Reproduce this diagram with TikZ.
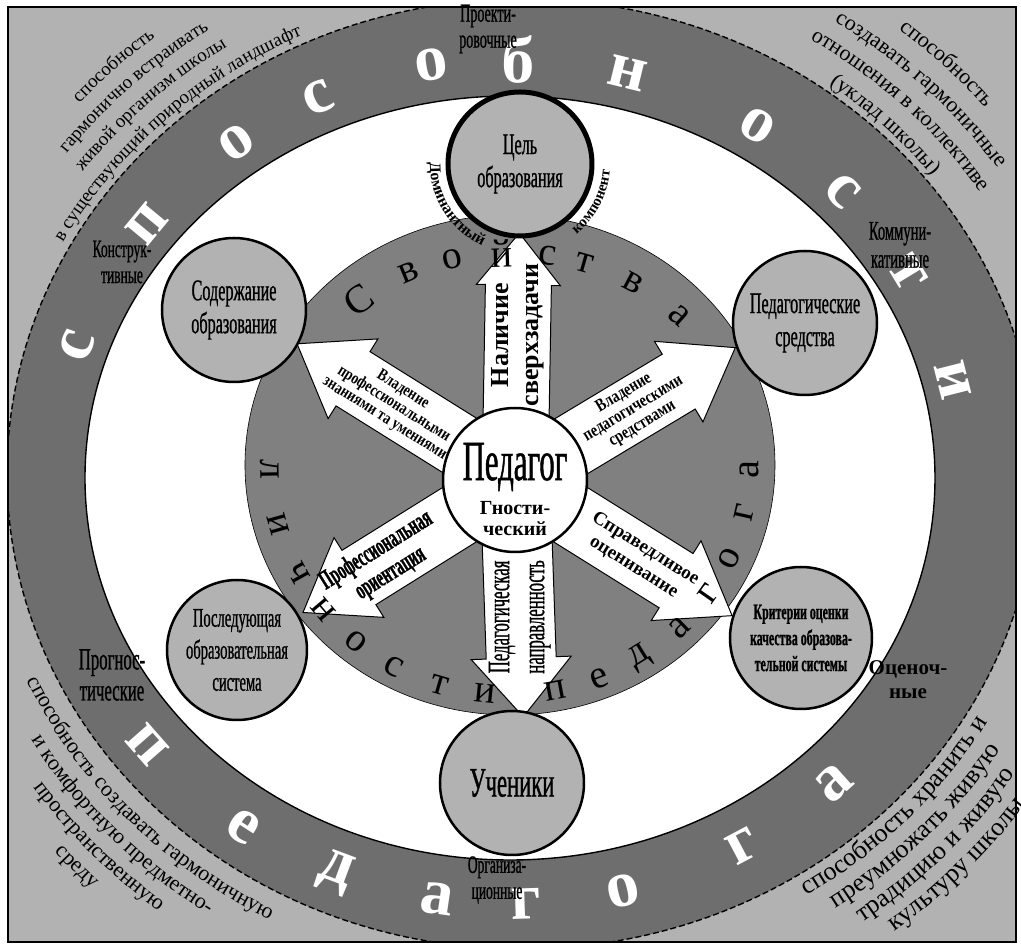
\documentclass[tikz,border=0pt]{standalone}
\usepackage{fontspec}
\setmainfont{Liberation Serif}
\newfontfamily\schmal[FakeStretch=0.62]{Liberation Serif}
\newfontfamily\engschrift[FakeStretch=0.54, FakeBold=0.8]{Liberation Serif}
\newfontfamily\halbschmal[FakeStretch=0.8]{Liberation Serif}
\usetikzlibrary{decorations.text}

\definecolor{hellgrau}{gray}{0.70}
\definecolor{ringgrau}{gray}{0.43}
\definecolor{innengrau}{gray}{0.50}

\newcommand{\eckschrift}{\fontsize{19}{19}\selectfont}
\newcommand{\eckgross}{\fontsize{22}{22}\selectfont}
\newcommand{\eckweit}{\fontsize{26}{26}\selectfont}

% blockpfeil vom paedagogen aus: winkel, spitze, schaft, kopf, kopflaenge, textpos, textdrehung, schrift, text
\newcommand{\blokpfeil}[9]{%
  \begin{scope}[shift={(zentrum)}, rotate=#1]
    \draw[pfeil] (40,-#3) -- ({#2-#5},-#3) -- ({#2-#5},-#4) -- (#2,0)
      -- ({#2-#5},#4) -- ({#2-#5},#3) -- (40,#3) -- cycle;
    \node[pfeiltext, rotate=#7, font=#8] at (#6,0) {#9};
  \end{scope}}

\begin{document}
\begin{tikzpicture}[x=1pt, y=1pt,
  kreis/.style={circle, draw, line width=2.5pt, fill=hellgrau, minimum size=144pt,
    inner sep=0pt, align=center, font=\engschrift\fontsize{30}{33}\selectfont},
  pfeil/.style={draw, fill=white, line width=1pt, line join=miter},
  pfeiltext/.style={align=center, inner sep=0pt},
  ringbuchstabe/.style={text=white, inner sep=0pt, font=\bfseries\fontsize{66}{66}\selectfont},
  innenbuchstabe/.style={inner sep=0pt, font=\fontsize{40}{40}\selectfont},
  ringtext/.style={align=center, inner sep=0pt, font=\engschrift\fontsize{26}{26}\selectfont}]
  \useasboundingbox (-510,-473) rectangle (511,474);
  % rahmen und hintergrund
  \fill[white] (-510,-473) rectangle (511,474);
  \fill[hellgrau] (-502,-468) rectangle (506,467);
  \begin{scope}[shift={(12,0)}]
    % aeusserer ring
    \begin{scope}
      \clip (-514,-468) rectangle (494,467);
      \draw[fill=ringgrau, dash pattern=on 6pt off 3pt, line width=1.4pt] (0,0) ellipse [x radius=515, y radius=475];
    \end{scope}
    % texte in den ecken
    \path[decorate, decoration={text along path, text align=center, text={|\eckschrift|в существующий природный ландшафт}}]
      (178:523 and 483) arc[start angle=178, end angle=90, x radius=523, y radius=483];
    \path[decorate, decoration={text along path, text align=center, text={|\eckschrift|живой организм школы}}]
      (178:547 and 507) arc[start angle=178, end angle=90, x radius=547, y radius=507];
    \path[decorate, decoration={text along path, text align=center, text={|\eckschrift|гармонично встраивать}}]
      (178:571 and 531) arc[start angle=178, end angle=90, x radius=571, y radius=531];
    \path[decorate, decoration={text along path, text align=center, text={|\eckschrift|способность}}]
      (178:595 and 555) arc[start angle=178, end angle=90, x radius=595, y radius=555];
    \path[decorate, decoration={text along path, text align=center, text={|\eckgross|(уклад школы)}}]
      (90:522 and 482) arc[start angle=90, end angle=0, x radius=522, y radius=482];
    \path[decorate, decoration={text along path, text align=center, text={|\eckgross|отношения в коллективе}}]
      (90:550 and 510) arc[start angle=90, end angle=0, x radius=550, y radius=510];
    \path[decorate, decoration={text along path, text align=center, text={|\eckgross|создавать гармоничные}}]
      (90:578 and 538) arc[start angle=90, end angle=0, x radius=578, y radius=538];
    \path[decorate, decoration={text along path, text align=center, text={|\eckgross|способность}}]
      (90:607 and 567) arc[start angle=90, end angle=0, x radius=607, y radius=567];
    \path[decorate, decoration={text along path, text align=center, text={|\eckgross|способность создавать гармоничную}}]
      (180:543 and 503) arc[start angle=180, end angle=265, x radius=543, y radius=503];
    \path[decorate, decoration={text along path, text align=center, text={|\eckgross|и комфортную предметно-}}]
      (180:568 and 528) arc[start angle=180, end angle=265, x radius=568, y radius=528];
    \path[decorate, decoration={text along path, text align=center, text={|\eckgross|пространственную}}]
      (180:593 and 553) arc[start angle=180, end angle=265, x radius=593, y radius=553];
    \path[decorate, decoration={text along path, text align=center, text={|\eckgross|среду}}]
      (180:618 and 578) arc[start angle=180, end angle=265, x radius=618, y radius=578];
    \path[decorate, decoration={text along path, text align=center, text={|\eckweit|способность хранить и}}]
      (272:537 and 497) arc[start angle=272, end angle=362, x radius=537, y radius=497];
    \path[decorate, decoration={text along path, text align=center, text={|\eckweit|преумножать живую}}]
      (272:563 and 523) arc[start angle=272, end angle=362, x radius=563, y radius=523];
    \path[decorate, decoration={text along path, text align=center, text={|\eckweit|традицию и живую}}]
      (272:589 and 549) arc[start angle=272, end angle=362, x radius=589, y radius=549];
    \path[decorate, decoration={text along path, text align=center, text={|\eckweit|культуру школы}}]
      (272:615 and 575) arc[start angle=272, end angle=362, x radius=615, y radius=575];
  \end{scope}
  % weisses feld und inneres oval
  \draw[fill=white, line width=1.4pt] (0,-4) ellipse [x radius=425, y radius=382];
  \draw[fill=innengrau, line width=0.6pt] (0,9) ellipse [x radius=265, y radius=250];
  % grosse buchstaben im ring
  \foreach \b/\w in {с/162, п/143, о/127, с/115, о/100, б/89, н/75, о/57, с/43, т/29, и/13}
    \node[ringbuchstabe, rotate={atan2(455*sin(\w),415*cos(\w))-90}] at (\w:455 and 415) {\b};
  \foreach \b/\w in {п/219, е/235, д/248, а/261, г/272, о/284, г/300, а/314}
    \node[ringbuchstabe, rotate={atan2(466*sin(\w),430*cos(\w))+90}] at (\w:466 and 430) {\b};
  % arten der faehigkeiten
  \node[ringtext, font=\engschrift\fontsize{26}{26}\selectfont] (proj) at (-22,445) {Проекти-\\ровочные};
  \node[ringtext, font=\engschrift\fontsize{25}{26}\selectfont] (konstr) at (-388,212) {Конструк-\\тивные};
  \node[ringtext, font=\engschrift\fontsize{27}{28}\selectfont] (komm) at (390,229) {Коммуни-\\кативные};
  \node[ringtext, font=\engschrift\fontsize{31}{31}\selectfont] (progn) at (-398,-201) {Прогнос-\\тические};
  \node[ringtext, font=\bfseries\fontsize{21}{24}\selectfont] (bewert) at (398,-206) {Оценоч-\\ные};
  \node[ringtext, font=\engschrift\fontsize{25}{26}\selectfont] (organ) at (-13,-406) {Организа-\\ционные};
  % pfeile
  \coordinate (zentrum) at (5,-6);
  \blokpfeil{89}{247}{33}{42}{52}{145}{90}{\bfseries\fontsize{26}{30}\selectfont}{Наличие\\сверхзадачи}
  \blokpfeil{-88}{237}{35}{50}{59}{137}{90}{\engschrift\fontsize{31}{35}\selectfont}{Педагогическая\\направленность}
  \blokpfeil{148}{257}{32}{47}{66}{143}{-32}{\halbschmal\bfseries\fontsize{17}{17}\selectfont}{Владение\\профессиональными\\знаниями та умениями}
  \blokpfeil{31}{257}{32}{47}{66}{138}{31}{\halbschmal\bfseries\fontsize{18}{18}\selectfont}{Владение\\педагогическими\\средствами}
  \blokpfeil{212}{250}{32}{47}{66}{155}{32}{\engschrift\bfseries\fontsize{27}{27}\selectfont}{Профессиональная\\ориентация}
  \blokpfeil{-32}{256}{32}{47}{66}{147}{-32}{\bfseries\fontsize{19}{22}\selectfont}{Справедливое\\оценивание}
  % buchstaben im inneren oval
  \begin{scope}[shift={(0,9)}]
    \foreach \b/\w in {С/129, в/115, о/104, й/92, с/81, т/72, в/59, а/45}
      \node[innenbuchstabe, rotate={atan2(240*sin(\w),212*cos(\w))-90}] at (\w:240 and 212) {\b};
    \foreach \b/\w in {л/181, и/195, ч/208, н/219, о/230, с/241, т/253, и/264, п/281, е/292, д/303, а/315, г/326, о/336, г/348, а/359}
      \node[innenbuchstabe, rotate={atan2(240*sin(\w),230*cos(\w))+90}] at (\w:240 and 230) {\b};
  \end{scope}
  % kreise
  \node[kreis, line width=5pt] (ziel) at (10,310) {Цель\\образования};
  \node[kreis] (inhalt) at (-276,164) {Содержание\\образования};
  \node[kreis] (mittel) at (295,151) {Педагогические\\средства};
  \node[kreis, minimum size=140pt, font=\engschrift\fontsize{27}{32}\selectfont] (system) at (-273,-176) {Последующая\\образовательная\\система};
  \node[kreis, minimum size=142pt, font=\engschrift\bfseries\fontsize{22}{26}\selectfont] (kriterien) at (291,-164) {Критерии оценки\\качества образова-\\тельной системы};
  \node[kreis, font=\engschrift\fontsize{42}{42}\selectfont] (schueler) at (2,-309) {Ученики};
  \node[kreis, fill=white] (paed) at (zentrum) {};
  \node[font=\engschrift\fontsize{57}{57}\selectfont, inner sep=0pt] (paedname) at ([yshift=13pt]paed.center) {Педагог};
  \node[font=\bfseries\fontsize{20}{21}\selectfont, align=center, inner sep=0pt] (gnost) at ([yshift=-39pt]paed.center) {Гности-\\ческий};
  % dominantes element
  \path[decorate, decoration={text along path, text align=center, text={|\bfseries\fontsize{16}{16}\selectfont|Доминантный}}]
    (ziel.center) ++(172:90) arc[start angle=172, end angle=252, radius=90];
  \path[decorate, decoration={text along path, text align=center, text={|\bfseries\fontsize{15}{15}\selectfont|компонент}}]
    (ziel.center) ++(300:90) arc[start angle=300, end angle=365, radius=90];
  \draw[line width=1.2pt] (-502,-468) rectangle (506,467);
\end{tikzpicture}
\end{document}
